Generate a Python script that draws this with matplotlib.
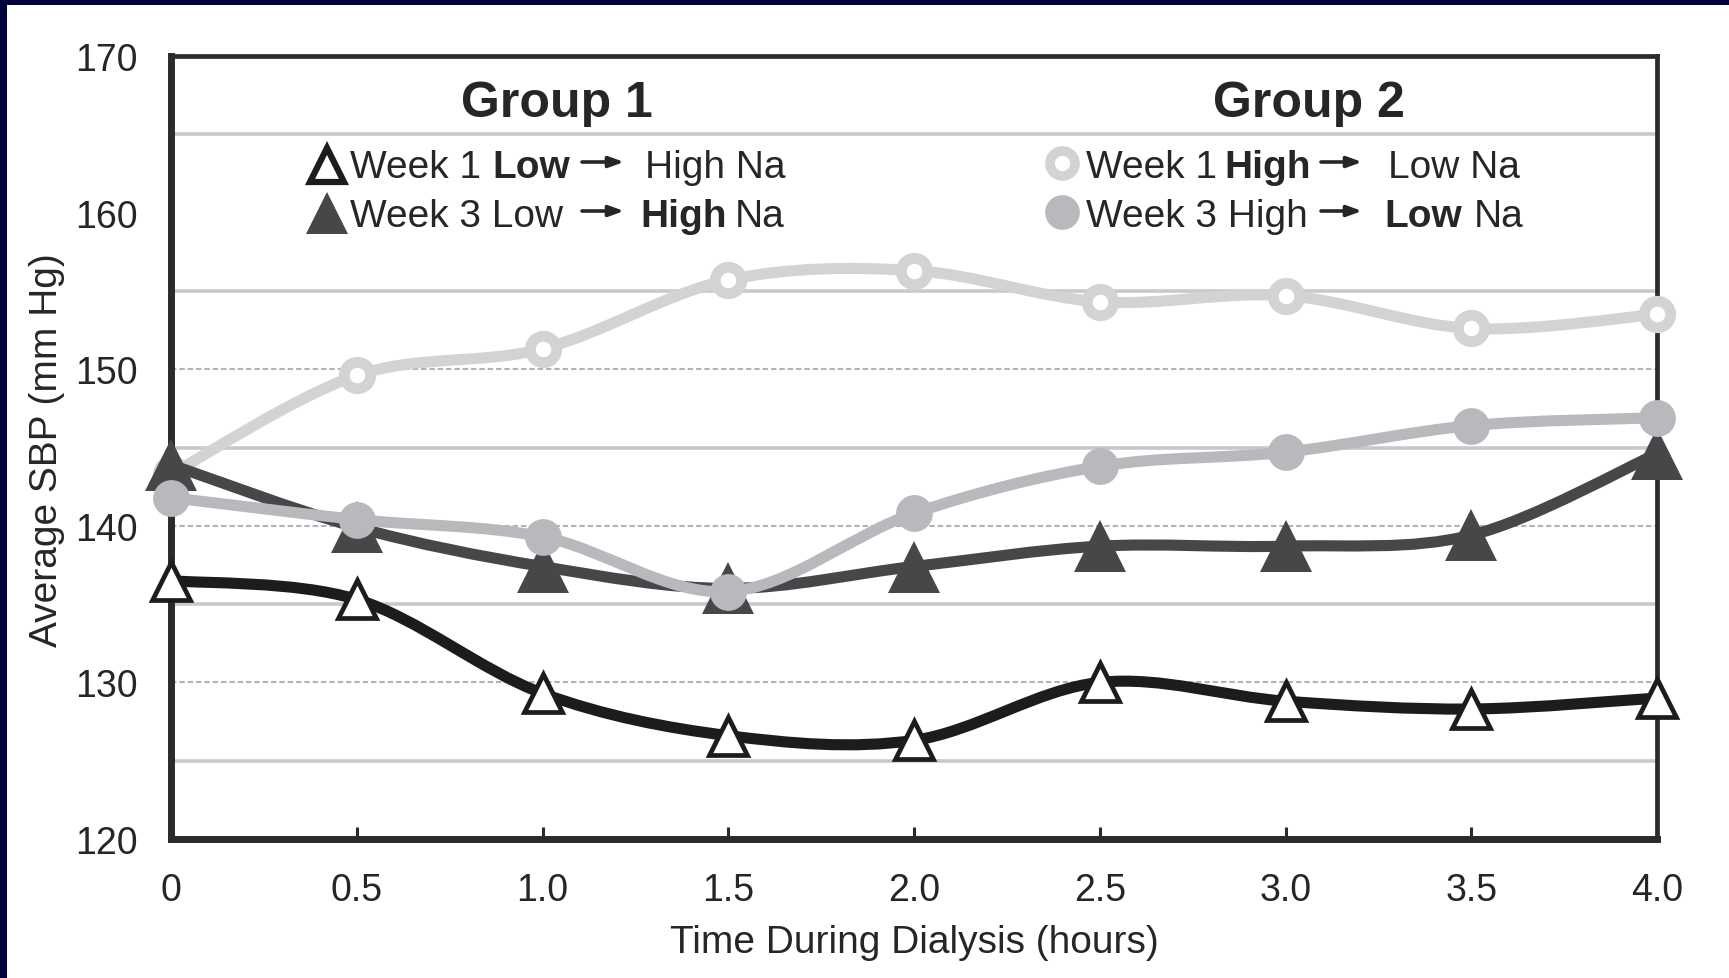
import matplotlib
matplotlib.use("Agg")
import matplotlib.pyplot as plt
from matplotlib.path import Path
from matplotlib.patches import PathPatch, Rectangle
import numpy as np

# ---- data -------------------------------------------------------------
hours = [0, 0.5, 1.0, 1.5, 2.0, 2.5, 3.0, 3.5, 4.0]
hour_labels = ["0", "0.5", "1.0", "1.5", "2.0", "2.5", "3.0", "3.5", "4.0"]
sbp_ticks = [120, 130, 140, 150, 160, 170]

g1_week1 = [136.5, 135.3, 129.3, 126.6, 126.3, 130.0, 128.8, 128.3, 129.0]
g1_week3 = [143.9, 139.9, 137.4, 136.0, 137.4, 138.7, 138.7, 139.4, 144.6]
g2_week1 = [143.3, 149.6, 151.3, 155.7, 156.3, 154.3, 154.7, 152.6, 153.5]
g2_week3 = [141.8, 140.4, 139.3, 135.8, 140.8, 143.8, 144.7, 146.4, 146.9]

group_titles = ["Group 1", "Group 2"]

# ---- style ------------------------------------------------------------
plt.rcParams["font.family"] = ["Liberation Sans", "DejaVu Sans"]
TEXT = "#262626"
C_BLACK = "#1c1c1c"
C_DARK = "#47474a"
C_LIGHT = "#d3d3d5"
C_MID = "#b8b9bc"
NAVY = "#000038"

W, H = 1729, 979
fig = plt.figure(figsize=(W / 100, H / 100), dpi=100)
fig.patch.set_facecolor("white")
ax = fig.add_axes([171 / W, 1 - 840 / H, (1657 - 171) / W, (840 - 57) / H])
ax.set_xlim(0, 4)
ax.set_ylim(120, 170)

# navy frame strips along the top and left edge
fig.add_artist(Rectangle((0, 1 - 6 / H), 1, 6 / H, transform=fig.transFigure,
                         facecolor=NAVY, edgecolor="none", zorder=10))
fig.add_artist(Rectangle((0, 0), 7 / W, 1, transform=fig.transFigure,
                         facecolor=NAVY, edgecolor="none", zorder=10))

# horizontal guides: solid on the odd fives, dotted on the decades
for yv in [125, 135, 145, 155, 165]:
    ax.axhline(yv, color="#c9c9cb", lw=2.6, zorder=1)
for yv in [130, 140, 150]:
    ax.axhline(yv, color="#b3b3b3", lw=1.5, ls=(0, (2.6, 1.4)), zorder=1)

# spines
for side in ["left", "bottom"]:
    ax.spines[side].set_linewidth(5)
    ax.spines[side].set_color("#2b2b2b")
for side in ["top", "right"]:
    ax.spines[side].set_linewidth(3.4)
    ax.spines[side].set_color("#2b2b2b")
for s in ax.spines.values():
    s.set_zorder(2)

ax.set_xticks(hours)
ax.set_xticklabels(hour_labels)
ax.set_yticks(sbp_ticks)
ax.set_yticklabels([str(v) for v in sbp_ticks])
ax.tick_params(axis="x", direction="in", length=9, width=2.2, color="#2b2b2b",
               pad=24, labelsize=27, labelcolor=TEXT)
ax.tick_params(axis="y", length=0, pad=24, labelsize=27, labelcolor=TEXT)

ax.set_xlabel("Time During Dialysis (hours)", fontsize=28, color=TEXT, va="baseline")
ax.xaxis.set_label_coords(0.5, -0.1443)
ax.set_ylabel("Average SBP (mm Hg)", fontsize=28, color=TEXT, va="center")
ax.yaxis.set_label_coords(-0.0834, 0.498)


def smooth_path(xs, ys):
    """Cubic Bezier path through the points (spreadsheet-style smoothed line)."""
    pts = np.column_stack([xs, ys]).astype(float)
    n = len(pts)
    verts = [pts[0]]
    codes = [Path.MOVETO]
    for i in range(n - 1):
        p0 = pts[i - 1] if i > 0 else pts[i]
        p1, p2 = pts[i], pts[i + 1]
        p3 = pts[i + 2] if i + 2 < n else pts[i + 1]
        verts += [p1 + (p2 - p0) / 6, p2 - (p3 - p1) / 6, p2]
        codes += [Path.CURVE4] * 3
    return Path(verts, codes)


def series(ys, color, z, **mk):
    ax.add_patch(PathPatch(smooth_path(hours, ys), facecolor="none", edgecolor=color,
                           lw=8, capstyle="round", joinstyle="round", zorder=z,
                           clip_on=False))
    ax.plot(hours, ys, ls="none", zorder=z + 0.1, clip_on=False, **mk)


TRI_OPEN = dict(marker="^", ms=27, mfc="white", mec=C_BLACK, mew=3.4)
TRI_FILL = dict(marker="^", ms=37, mfc=C_DARK, mec=C_DARK, mew=0)
CIR_OPEN = dict(marker="o", ms=19, mfc="white", mec=C_LIGHT, mew=7.8)
CIR_FILL = dict(marker="o", ms=26.5, mfc=C_MID, mec=C_MID, mew=0)

series(g2_week1, C_LIGHT, 3, **CIR_OPEN)
series(g1_week1, C_BLACK, 4, **TRI_OPEN)
series(g1_week3, C_DARK, 5, **TRI_FILL)
series(g2_week3, C_MID, 6, **CIR_FILL)

# ---- header: group titles and keys -------------------------------------
def fx(px):
    return (px - 171) / (1657 - 171)


def fy(py):
    return (840 - py) / (840 - 57)


for title, cx in zip(group_titles, [557, 1309]):
    ax.text(fx(cx), fy(116.7), title, transform=ax.transAxes, ha="center",
            va="baseline", fontsize=36, fontweight="bold", color=TEXT, zorder=8)

ROW1, ROW2 = 178, 227


def fragments(parts, py):
    for px, s, bold in parts:
        ax.text(fx(px), fy(py), s, transform=ax.transAxes, ha="left", va="baseline",
                fontsize=28, fontweight="bold" if bold else "normal", color=TEXT, zorder=8)


def arrow(x0, x1, py):
    ax.annotate("", xy=(fx(x1), fy(py)), xytext=(fx(x0), fy(py)),
                xycoords="axes fraction", textcoords="axes fraction",
                arrowprops=dict(arrowstyle="-|>,head_length=0.55,head_width=0.2",
                                lw=2.6, color=TEXT, shrinkA=0, shrinkB=0,
                                mutation_scale=16), zorder=8)


fragments([(350, "Week 1", False), (492, "Low", True), (645, "High Na", False)], ROW1)
fragments([(350, "Week 3 Low", False), (640, "High", True), (735, "Na", False)], ROW2)
arrow(582, 624, ROW1 - 15)
arrow(582, 624, ROW2 - 15)

fragments([(1086, "Week 1", False), (1224, "High", True), (1388, "Low Na", False)], ROW1)
fragments([(1086, "Week 3 High", False), (1384, "Low", True), (1474, "Na", False)], ROW2)
arrow(1321, 1362, ROW1 - 15)
arrow(1321, 1362, ROW2 - 15)

ax.plot([fx(327)], [fy(166)], transform=ax.transAxes, clip_on=False, zorder=9,
        marker="^", ms=24, mfc="white", mec=C_BLACK, mew=4.5, ls="none")
ax.plot([fx(327)], [fy(214)], transform=ax.transAxes, clip_on=False, zorder=9,
        marker="^", ms=30, mfc=C_DARK, mec=C_DARK, mew=0, ls="none")
ax.plot([fx(1062)], [fy(164)], transform=ax.transAxes, clip_on=False, zorder=9,
        marker="o", ms=18, mfc="white", mec=C_LIGHT, mew=7, ls="none")
ax.plot([fx(1062)], [fy(213)], transform=ax.transAxes, clip_on=False, zorder=9,
        marker="o", ms=25, mfc=C_MID, mec=C_MID, mew=0, ls="none")

fig.savefig("out.png", dpi=100)
